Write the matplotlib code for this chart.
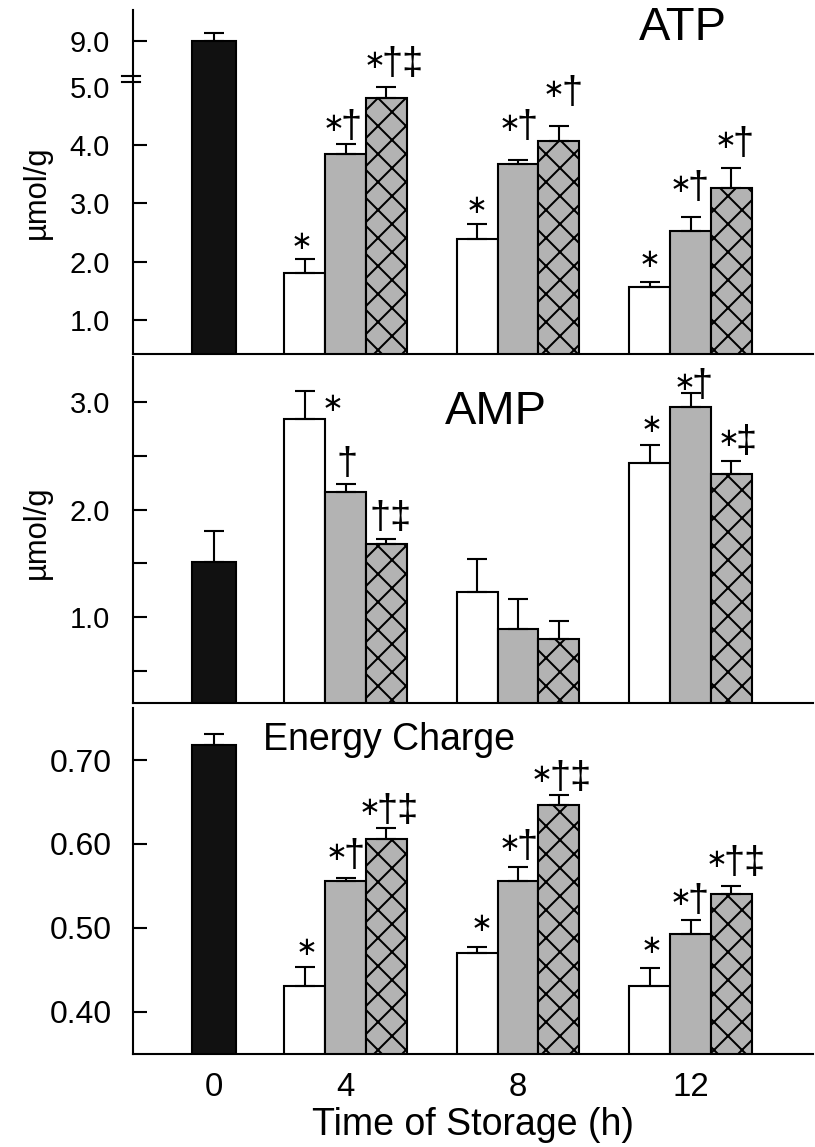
import numpy as np
import matplotlib
matplotlib.use('Agg')
import matplotlib.pyplot as plt

DPI = 84


def pt(px):
    # tamaños pensados en pixeles de la imagen final
    return px * 72.0 / DPI


plt.rcParams['font.family'] = ['Liberation Sans', 'DejaVu Sans']
plt.rcParams['hatch.linewidth'] = pt(2.0)

# Tiempo de almacenamiento (h)
horas = ['0', '4', '8', '12']

# ATP (umol/g): control a 0 h y los tres grupos a 4, 8 y 12 h
atp_control = 9.0
atp_control_err = 0.63
atp_blanco = [1.80, 2.38, 1.57]
atp_blanco_err = [0.25, 0.26, 0.08]
atp_gris = [3.85, 3.67, 2.53]
atp_gris_err = [0.18, 0.07, 0.24]
atp_rayado = [4.82, 4.07, 3.27]
atp_rayado_err = [0.22, 0.26, 0.34]
atp_marcas = [['*', '*†', '*†‡'], ['*', '*†', '*†'], ['*', '*†', '*†']]

# AMP (umol/g)
amp_control = 1.51
amp_control_err = 0.29
amp_blanco = [2.84, 1.23, 2.43]
amp_blanco_err = [0.26, 0.31, 0.17]
amp_gris = [2.16, 0.89, 2.95]
amp_gris_err = [0.08, 0.28, 0.13]
amp_rayado = [1.68, 0.80, 2.33]
amp_rayado_err = [0.05, 0.16, 0.12]
amp_marcas = [['*', '†', '†‡'], ['', '', ''], ['*', '*†', '*‡']]

# Energy Charge
ec_control = 0.718
ec_control_err = 0.013
ec_blanco = [0.431, 0.470, 0.431]
ec_blanco_err = [0.022, 0.007, 0.021]
ec_gris = [0.556, 0.556, 0.493]
ec_gris_err = [0.003, 0.017, 0.017]
ec_rayado = [0.606, 0.646, 0.541]
ec_rayado_err = [0.013, 0.012, 0.009]
ec_marcas = [['*', '*†', '*†‡'], ['*', '*†', '*†‡'], ['*', '*†', '*†‡']]

# colocacion de las marcas: desplazamiento x del primer signo y altura de la base (pixeles)
atp_x0 = [[-3, -12, -12], [-1, -9, -5], [0, -10, -6]]
atp_base = [[4, 7, 13], [5, 23, 23], [9, 19, 14]]
amp_x0 = [[28, 2, -6], [0, 0, 0], [2, -6, -3]]
amp_base = [[-26, 10, 11], [0, 0, 0], [7, -3, 9]]
ec_x0 = [[2, -9, -17], [4, -9, -17], [2, -10, -15]]
ec_base = [[6, 12, 7], [10, 10, 7], [9, 9, 13]]

pos_grupo = [0.238, 1.0, 2.0, 3.0]
ancho = 0.236
ancho_control = 0.255
gris = '#b3b3b3'
lw = pt(2.1)
error_kw = dict(ecolor='black', elinewidth=lw, capsize=pt(10), capthick=lw)
tam_cruz = 38


def adelante(y):
    y = np.asarray(y, dtype=float)
    return np.where(y <= 5, y, 5 + (y - 5) * 0.2)


def atras(y):
    y = np.asarray(y, dtype=float)
    return np.where(y <= 5, y, 5 + (y - 5) / 0.2)


def ponerMarca(ax, x, y, marca, x0, base):
    cur = x0
    if marca.startswith('*'):
        ax.annotate('∗', (x, y), xytext=(cur, base + 6), textcoords='offset pixels',
                    ha='center', va='baseline', fontsize=pt(26), family='DejaVu Sans')
        cur += 18
    cruces = marca.lstrip('*')
    if cruces:
        ax.annotate(cruces, (x, y), xytext=(cur - 0.278 * tam_cruz, base), textcoords='offset pixels',
                    ha='left', va='baseline', fontsize=pt(tam_cruz))


def dibujarPanel(ax, control, control_err, blanco, blanco_err, gris_v, gris_err,
                 rayado, rayado_err, marcas, x0, base):
    ax.bar(pos_grupo[0], control, ancho_control, yerr=[[0], [control_err]],
           color='#111111', edgecolor='black', linewidth=lw, error_kw=error_kw)
    series = [(blanco, blanco_err, dict(color='white')),
              (gris_v, gris_err, dict(color=gris)),
              (rayado, rayado_err, dict(color=gris, hatch='x'))]
    for k, (vals, errs, estilo) in enumerate(series):
        xs = np.array(pos_grupo[1:]) + (k - 1) * ancho
        ax.bar(xs, vals, ancho, yerr=[np.zeros(len(vals)), errs],
               edgecolor='black', linewidth=lw, error_kw=error_kw, **estilo)
        for i in range(len(vals)):
            if marcas[i][k]:
                ponerMarca(ax, xs[i], vals[i] + errs[i], marcas[i][k], x0[i][k], base[i][k])
    ax.spines['top'].set_visible(False)
    ax.spines['right'].set_visible(False)
    ax.spines['left'].set_linewidth(lw)
    ax.spines['bottom'].set_linewidth(lw)
    ax.set_xlim(-0.232, 3.71)
    ax.set_xticks(pos_grupo)
    ax.tick_params(axis='x', length=0)
    ax.tick_params(axis='y', direction='in', length=pt(14), width=lw, pad=pt(23), labelsize=pt(29))


fig = plt.figure(figsize=(815 / DPI, 1147 / DPI), dpi=DPI)
ax1 = fig.add_axes([0.1632, 0.6914, 0.8344, 0.2999])
ax2 = fig.add_axes([0.1632, 0.3871, 0.8344, 0.3017])
ax3 = fig.add_axes([0.1632, 0.0811, 0.8344, 0.3017])

# ATP, eje con corte
ax1.set_yscale('function', functions=(adelante, atras))
dibujarPanel(ax1, atp_control, atp_control_err, atp_blanco, atp_blanco_err, atp_gris, atp_gris_err,
             atp_rayado, atp_rayado_err, atp_marcas, atp_x0, atp_base)
ax1.set_ylim(0.41, 11.64)
ax1.set_yticks([1, 2, 3, 4, 5, 9])
ax1.set_yticklabels(['1.0', '2.0', '3.0', '4.0', '5.0', '9.0'])
ax1.yaxis.get_major_ticks()[4].tick1line.set_visible(False)
ax1.set_xticklabels([])
corte = ax1.get_yaxis_transform()
for yc in [5.46, 5.95]:
    ax1.plot([-0.016, 0.011], [yc, yc], color='black', linewidth=lw, transform=corte, clip_on=False)
ax1.set_ylabel('µmol/g', fontsize=pt(31))
ax1.yaxis.set_label_coords(-0.119, 0.471)
ax1.text(0.809, 0.948, 'ATP', transform=ax1.transAxes, fontsize=pt(47), ha='center', va='center')

# AMP
dibujarPanel(ax2, amp_control, amp_control_err, amp_blanco, amp_blanco_err, amp_gris, amp_gris_err,
             amp_rayado, amp_rayado_err, amp_marcas, amp_x0, amp_base)
ax2.set_ylim(0.2, 3.42)
ax2.set_yticks([0.5, 1.0, 1.5, 2.0, 2.5, 3.0])
ax2.set_yticklabels(['', '1.0', '', '2.0', '', '3.0'])
ax2.set_xticklabels([])
ax2.set_ylabel('µmol/g', fontsize=pt(31))
ax2.yaxis.set_label_coords(-0.119, 0.494)
ax2.text(0.534, 0.841, 'AMP', transform=ax2.transAxes, fontsize=pt(47), ha='center', va='center')

# Energy Charge
dibujarPanel(ax3, ec_control, ec_control_err, ec_blanco, ec_blanco_err, ec_gris, ec_gris_err,
             ec_rayado, ec_rayado_err, ec_marcas, ec_x0, ec_base)
ax3.set_ylim(0.35, 0.762)
ax3.set_yticks([0.40, 0.50, 0.60, 0.70])
ax3.set_yticklabels(['0.40', '0.50', '0.60', '0.70'])
ax3.tick_params(axis='y', pad=pt(21), labelsize=pt(32))
ax3.set_xticklabels(horas)
ax3.tick_params(axis='x', labelsize=pt(33), pad=pt(18))
ax3.set_xlabel('Time of Storage (h)', fontsize=pt(37.5), labelpad=pt(4))
ax3.text(0.191, 0.9075, 'Energy Charge', transform=ax3.transAxes, fontsize=pt(37.5), ha='left', va='center')

plt.savefig('out.png', dpi=DPI)
